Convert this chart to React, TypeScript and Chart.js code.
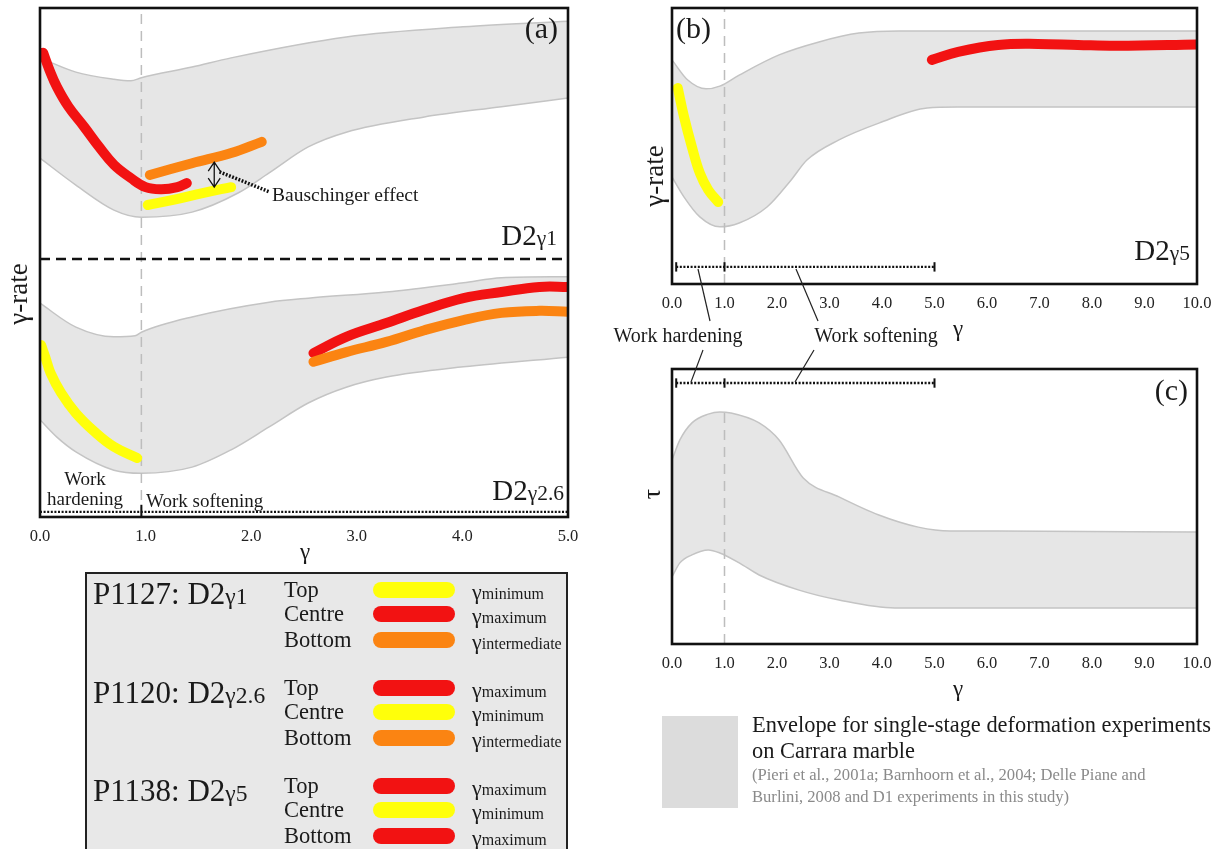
import React, { useEffect, useRef } from 'react';
import { Chart, registerables } from 'chart.js';
Chart.register(...registerables);

const FONT = '"Liberation Serif", "Times New Roman", serif';
const RED = '#f21212';
const YELLOW = '#ffff0a';
const ORANGE = '#fb8412';
const ENV_FILL = '#e6e6e6';
const ENV_LINE = '#c4c4c4';
const DASH_GREY = '#bdbdbd';

type P = [number, number][];

// ---------- Panel (a) : gamma 0..5, arbitrary gamma-rate units 0..100 ----------
const aXMax = 5;
const aTopEnvUpper: P = [[0, 90.2], [0.34, 87.4], [0.7, 86.0], [0.86, 85.7], [0.96, 86.3], [1.44, 88.4], [1.81, 90.2], [2.9, 94.3], [4.01, 96.3], [5, 97.4]];
const aTopEnvLower: P = [[0, 70.5], [0.34, 65.2], [0.7, 60.3], [0.96, 58.9], [1.44, 59.9], [1.88, 63.7], [2.17, 67.6], [2.54, 72.7], [2.9, 75.6], [3.64, 78.6], [4.37, 80.6], [5, 82.3]];
const aTopRed: P = [[0.03, 91.2], [0.09, 87.8], [0.16, 84.5], [0.27, 80.6], [0.42, 76.6], [0.56, 72.7], [0.7, 69.2], [0.86, 66.6], [1.0, 64.8], [1.15, 64.4], [1.3, 64.8], [1.39, 65.6]];
const aTopOrange: P = [[1.04, 67.2], [1.44, 69.5], [1.81, 71.5], [2.1, 73.7]];
const aTopYellow: P = [[1.02, 61.3], [1.26, 62.3], [1.55, 63.7], [1.81, 64.8]];
const aBotEnvUpper: P = [[0, 42.0], [0.34, 37.3], [0.7, 35.4], [0.9, 35.6], [0.96, 36.3], [1.44, 39.3], [2.17, 42.2], [2.54, 43.0], [3.28, 44.2], [4.01, 46.0], [4.37, 47.0], [5, 47.2]];
const aBotEnvLower: P = [[0, 19.1], [0.16, 15.7], [0.34, 12.8], [0.7, 9.2], [0.96, 8.6], [1.44, 9.8], [1.81, 13.2], [2.17, 17.7], [2.54, 22.4], [2.9, 25.5], [3.28, 27.5], [4.01, 29.5], [5, 31.4]];
const aBotYellow: P = [[0.01, 33.8], [0.05, 31.4], [0.1, 28.3], [0.2, 24.4], [0.34, 20.4], [0.52, 16.7], [0.7, 13.8], [0.92, 11.6]];
const aBotRed: P = [[2.59, 32.2], [2.9, 35.4], [3.28, 38.1], [3.64, 40.7], [4.01, 43.0], [4.37, 44.2], [4.73, 45.2], [5, 45.2]];
const aBotOrange: P = [[2.59, 30.5], [2.9, 32.4], [3.28, 34.4], [3.64, 36.7], [4.01, 38.7], [4.37, 40.1], [4.73, 40.5], [5, 40.3]];
const aHardeningLimit = 0.96;
const aSeparatorY = 50.7;
const aDividerY = 1.0;
const bauschArrow = { x: 1.65, y0: 64.8, y1: 69.7 };
const bauschLeader: P = [[1.7, 67.8], [2.17, 63.9]];

// ---------- Panel (b) : gamma 0..10 ----------
const bXMax = 10;
const bEnvUpper: P = [[0, 81.2], [0.3, 73.9], [0.65, 70.7], [0.91, 71.7], [1.28, 75.7], [2.04, 83.0], [2.8, 87.7], [3.56, 90.9], [4.32, 91.7], [5.45, 91.7], [10, 91.7]];
const bEnvLower: P = [[0, 38.8], [0.23, 31.5], [0.53, 24.3], [0.91, 20.7], [1.28, 22.1], [1.81, 27.9], [2.27, 37.7], [2.57, 44.9], [3.18, 52.2], [3.94, 58.3], [4.86, 63.8], [5.45, 64.1], [10, 64.1]];
const bYellow: P = [[0.11, 71.0], [0.23, 60.5], [0.38, 49.6], [0.53, 40.2], [0.69, 34.1], [0.88, 29.7]];
const bRed: P = [[4.95, 81.2], [5.45, 84.1], [6.21, 86.6], [6.97, 87.0], [7.73, 86.6], [8.48, 86.3], [10, 86.8]];
const bDividerY = 6.2;

// ---------- Panel (c) : tau envelope ----------
const cEnvUpper: P = [[0, 66.9], [0.15, 74.2], [0.38, 80.4], [0.69, 83.6], [0.91, 84.4], [1.12, 84.0], [1.66, 80.4], [2.04, 74.2], [2.5, 60.4], [3.18, 53.5], [3.94, 46.9], [4.69, 42.5], [5.3, 41.1], [6.21, 41.1], [10, 40.7]];
const cEnvLower: P = [[0, 24.4], [0.15, 29.5], [0.38, 32.4], [0.69, 34.2], [0.91, 33.1], [1.28, 29.5], [1.66, 25.1], [2.42, 19.6], [3.18, 16.0], [4.24, 13.1], [5.45, 13.1], [10, 13.1]];
const cDividerY = 94.9;

// work hardening / softening bar (panels b, c)
const dividerTicks = [0.08, 1.0, 5.0];
const hardeningLimit = 1.0;

// ---------- Legend ----------
const legendSamples = ['P1127', 'P1120', 'P1138'];
const legendSampleGamma = ['1', '2.6', '5'];
const legendPositions = ['Top', 'Centre', 'Bottom'];
const legendColors = [[YELLOW, RED, ORANGE], [RED, YELLOW, ORANGE], [RED, YELLOW, RED]];
const legendGammaLabels = [['minimum', 'maximum', 'intermediate'], ['maximum', 'minimum', 'intermediate'], ['maximum', 'minimum', 'maximum']];

const pts = (a: P) => a.map(([x, y]) => ({ x, y }));

const curve = (data: P, color: string, width = 10, order = 1) => ({
  data: pts(data), borderColor: color, borderWidth: width, borderCapStyle: 'round', borderJoinStyle: 'round',
  pointRadius: 0, fill: false, tension: 0.4, order,
});
const seg = (data: P, color: string, width: number, dash: number[] = [], order = 5) => ({
  data: pts(data), borderColor: color, borderWidth: width, borderDash: dash, pointRadius: 0, fill: false, tension: 0, order,
});
const envelope = (lower: P, upper: P) => [
  { data: pts(lower), borderColor: ENV_LINE, borderWidth: 1.5, pointRadius: 0, fill: false, cubicInterpolationMode: 'monotone', order: 10 },
  { data: pts(upper), borderColor: ENV_LINE, borderWidth: 1.5, pointRadius: 0, fill: '-1', backgroundColor: ENV_FILL, cubicInterpolationMode: 'monotone', order: 10 },
];
const dividerBar = (y: number, half: number) => [
  seg([[dividerTicks[0], y], [dividerTicks[dividerTicks.length - 1], y]], '#111', 2.4, [2, 1.6], 3),
  ...dividerTicks.map((t) => seg([[t, y - half], [t, y + half]], '#111', 2, [], 3)),
];

const framePlugin = {
  id: 'frame',
  afterDatasetsDraw(chart: any) {
    const { ctx, chartArea: a } = chart;
    ctx.save();
    ctx.strokeStyle = '#111';
    ctx.lineWidth = 2.6;
    ctx.strokeRect(a.left, a.top, a.right - a.left, a.bottom - a.top);
    ctx.restore();
  },
};

const bauschPlugin = {
  id: 'bausch',
  afterDatasetsDraw(chart: any) {
    const { ctx, scales } = chart;
    const x = scales.x.getPixelForValue(bauschArrow.x);
    const yTop = scales.y.getPixelForValue(bauschArrow.y1);
    const yBot = scales.y.getPixelForValue(bauschArrow.y0);
    ctx.save();
    ctx.strokeStyle = '#111';
    ctx.lineWidth = 1.3;
    ctx.beginPath();
    ctx.moveTo(x, yTop); ctx.lineTo(x, yBot);
    ctx.moveTo(x - 6, yTop + 9); ctx.lineTo(x, yTop); ctx.lineTo(x + 6, yTop + 9);
    ctx.moveTo(x - 6, yBot - 9); ctx.lineTo(x, yBot); ctx.lineTo(x + 6, yBot - 9);
    ctx.stroke();
    ctx.lineWidth = 3.5;
    ctx.setLineDash([1.8, 1.6]);
    ctx.beginPath();
    ctx.moveTo(scales.x.getPixelForValue(bauschLeader[0][0]), scales.y.getPixelForValue(bauschLeader[0][1]));
    ctx.lineTo(scales.x.getPixelForValue(bauschLeader[1][0]), scales.y.getPixelForValue(bauschLeader[1][1]));
    ctx.stroke();
    ctx.restore();
  },
};

const xAxis = (max: number) => ({
  type: 'linear', min: 0, max,
  grid: { display: false, drawTicks: false },
  border: { display: false },
  ticks: { stepSize: 1, autoSkip: false, padding: 10, color: '#222', font: { family: FONT, size: 16.5 }, callback: (v: any) => Number(v).toFixed(1) },
  afterFit: (s: any) => { s.height = 30; },
});
const yAxis = { type: 'linear', min: 0, max: 100, display: false };

const baseOptions = (max: number, padding: any) => ({
  responsive: false, animation: false, events: [],
  layout: { padding },
  scales: { x: xAxis(max), y: yAxis },
  plugins: { legend: { display: false }, tooltip: { enabled: false } },
});

function ChartBox({ left, top, width, height, config }: any) {
  const ref = useRef<HTMLCanvasElement>(null);
  useEffect(() => {
    const chart = new Chart(ref.current as HTMLCanvasElement, config);
    return () => chart.destroy();
  }, []);
  return <canvas ref={ref} width={width} height={height} style={{ position: 'absolute', left, top, width, height }} />;
}

function T({ x, y, anchor = 'start', size = 17, color = '#1a1a1a', rotate = 0, children }: any) {
  const tx = anchor === 'start' ? '0' : anchor === 'middle' ? '-50%' : '-100%';
  return (
    <div style={{
      position: 'absolute', left: x, top: y, fontSize: size, lineHeight: 1, color, whiteSpace: 'nowrap',
      transform: `translate(${tx}, -50%)` + (rotate ? ` rotate(${rotate}deg)` : ''),
    }}>{children}</div>
  );
}
const Sub = ({ children, s = 0.74 }: any) => <span style={{ fontSize: `${s}em` }}>{children}</span>;

export default function App() {
  const configA = {
    type: 'line',
    data: {
      datasets: [
        ...envelope(aTopEnvLower, aTopEnvUpper),
        ...envelope(aBotEnvLower, aBotEnvUpper),
        seg([[aHardeningLimit, 0], [aHardeningLimit, 100]], DASH_GREY, 1.5, [10, 7], 6),
        seg([[0, aSeparatorY], [aXMax, aSeparatorY]], '#111', 2.6, [10, 6], 4),
        seg([[0, aDividerY], [aXMax, aDividerY]], '#111', 2.2, [2, 1.6], 3),
        seg([[aHardeningLimit, 0], [aHardeningLimit, 2.4]], '#111', 2, [], 3),
        curve(aTopRed, RED),
        curve(aTopOrange, ORANGE),
        curve(aTopYellow, YELLOW),
        curve(aBotYellow, YELLOW),
        curve(aBotOrange, ORANGE),
        curve(aBotRed, RED),
      ],
    },
    options: baseOptions(aXMax, { left: 40, top: 8, right: 32, bottom: 13 }),
    plugins: [framePlugin, bauschPlugin],
  };
  const configB = {
    type: 'line',
    data: {
      datasets: [
        ...envelope(bEnvLower, bEnvUpper),
        seg([[hardeningLimit, 0], [hardeningLimit, 100]], DASH_GREY, 1.5, [10, 7], 6),
        ...dividerBar(bDividerY, 1.7),
        curve(bYellow, YELLOW),
        curve(bRed, RED),
      ],
    },
    options: baseOptions(bXMax, { left: 40, top: 8, right: 25, bottom: 6 }),
    plugins: [framePlugin],
  };
  const configC = {
    type: 'line',
    data: {
      datasets: [
        ...envelope(cEnvLower, cEnvUpper),
        seg([[hardeningLimit, 0], [hardeningLimit, 85]], DASH_GREY, 1.5, [10, 7], 6),
        ...dividerBar(cDividerY, 1.7),
      ],
    },
    options: baseOptions(bXMax, { left: 40, top: 29, right: 25, bottom: 6 }),
    plugins: [framePlugin],
  };

  const groupTitleY = [593, 692, 790];
  const rowY = [[590, 614, 640], [688, 712, 738], [786, 810, 836]];

  return (
    <div style={{ position: 'absolute', left: 0, top: 0, width: 1226, height: 849, overflow: 'hidden', background: '#fff', fontFamily: FONT }}>
      <ChartBox left={0} top={0} width={600} height={560} config={configA} />
      <ChartBox left={632} top={0} width={590} height={320} config={configB} />
      <ChartBox left={632} top={340} width={590} height={340} config={configC} />

      <svg width={1226} height={849} style={{ position: 'absolute', left: 0, top: 0 }}>
        <g stroke="#222" strokeWidth={1.2}>
          <line x1={698} y1={269} x2={710} y2={321} />
          <line x1={703} y1={350} x2={691} y2={382} />
          <line x1={796} y1={269} x2={818} y2={321} />
          <line x1={814} y1={350} x2={795} y2={382} />
        </g>
      </svg>

      {/* panel (a) texts */}
      <T x={558} y={28} anchor="end" size={30}>(a)</T>
      <T x={557} y={235} anchor="end" size={29}>D2<Sub>γ1</Sub></T>
      <T x={272} y={195} size={19.5}>Bauschinger effect</T>
      <T x={85} y={478} anchor="middle" size={19}>Work</T>
      <T x={85} y={498} anchor="middle" size={19}>hardening</T>
      <T x={146} y={500} size={19}>Work softening</T>
      <T x={564} y={490} anchor="end" size={29}>D2<Sub>γ2.6</Sub></T>
      <T x={18} y={294} anchor="middle" size={27} rotate={-90}>γ-rate</T>
      <T x={305} y={551} anchor="middle" size={23}>γ</T>

      {/* panel (b) texts */}
      <T x={676} y={28} size={30}>(b)</T>
      <T x={1190} y={250} anchor="end" size={29}>D2<Sub>γ5</Sub></T>
      <T x={654} y={176} anchor="middle" size={27} rotate={-90}>γ-rate</T>
      <T x={678} y={335} anchor="middle" size={20}>Work hardening</T>
      <T x={876} y={335} anchor="middle" size={20}>Work softening</T>
      <T x={958} y={328} anchor="middle" size={23}>γ</T>

      {/* panel (c) texts */}
      <T x={1188} y={390} anchor="end" size={30}>(c)</T>
      <T x={652} y={494} anchor="middle" size={26} rotate={-90}>τ</T>
      <T x={958} y={688} anchor="middle" size={23}>γ</T>

      {/* sample legend */}
      <div style={{ position: 'absolute', left: 85, top: 572, width: 483, height: 290, background: '#e8e8e8', border: '2px solid #222', boxSizing: 'border-box' }} />
      {legendSamples.map((s, g) => (
        <React.Fragment key={s}>
          <T x={93} y={groupTitleY[g]} size={31}>{s}: D2<Sub s={0.76}>γ{legendSampleGamma[g]}</Sub></T>
          {legendPositions.map((p, r) => (
            <React.Fragment key={p}>
              <T x={284} y={rowY[g][r]} size={22.5}>{p}</T>
              <div style={{ position: 'absolute', left: 373, top: rowY[g][r] - 8, width: 82, height: 16, borderRadius: 8, background: legendColors[g][r] }} />
              <T x={472} y={rowY[g][r] + 2} size={22}>γ<span style={{ fontSize: 16 }}>{legendGammaLabels[g][r]}</span></T>
            </React.Fragment>
          ))}
        </React.Fragment>
      ))}

      {/* envelope legend */}
      <div style={{ position: 'absolute', left: 662, top: 716, width: 76, height: 92, background: '#dcdcdc' }} />
      <T x={752} y={725} size={22.4}>Envelope for single-stage deformation experiments</T>
      <T x={752} y={751} size={22.4}>on Carrara marble</T>
      <T x={752} y={775} size={16.6}>
        <span style={{ color: '#8a8a8a' }}>(Pieri et al., 2001a; Barnhoorn et al., 2004; Delle Piane and</span>
      </T>
      <T x={752} y={797} size={16.6}>
        <span style={{ color: '#8a8a8a' }}>Burlini, 2008 and D1 experiments in this study)</span>
      </T>
    </div>
  );
}
